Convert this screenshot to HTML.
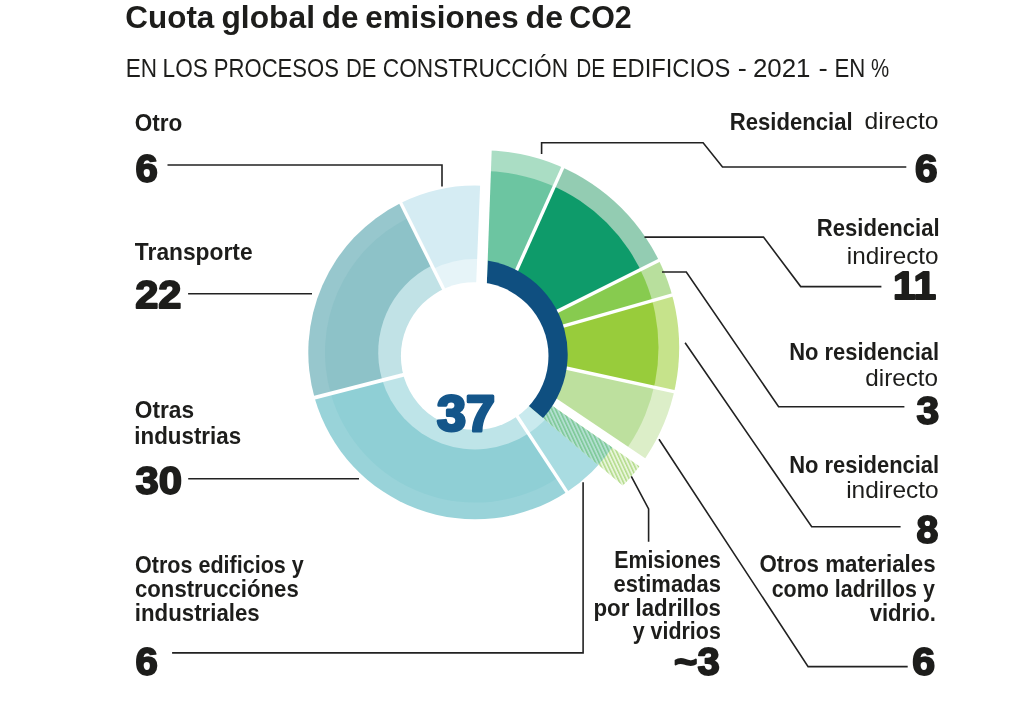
<!DOCTYPE html>
<html lang="es"><head><meta charset="utf-8"><title>Cuota global de emisiones de CO2</title>
<style>
html,body{margin:0;padding:0;background:#fff}
svg{display:block;will-change:transform}
text{font-family:"Liberation Sans",Arial,sans-serif}
</style></head><body>
<svg width="1031" height="719" viewBox="0 0 1031 719">
<defs>
<pattern id="hatchL" width="3.4" height="3.4" patternUnits="userSpaceOnUse" patternTransform="rotate(-25)"><rect width="3.4" height="3.4" fill="#e8f5da"/><rect width="1.5" height="3.4" fill="#b3db8b"/></pattern>
<pattern id="hatchD" width="3.4" height="3.4" patternUnits="userSpaceOnUse" patternTransform="rotate(-25)"><rect width="3.4" height="3.4" fill="#b2dfd0"/><rect width="1.5" height="3.4" fill="#7cc896"/></pattern>
<clipPath id="hclip"><polygon points="520.0,383.4 660,480.4 650,508.8 505.3,386.0"/></clipPath><clipPath id="rclip"><polygon points="486.2,300 493.5,100 760,100 650,508.8 459.54,347.19"/></clipPath>
<clipPath id="gout"><circle cx="481.9" cy="347.6" r="197.3"/></clipPath>
<clipPath id="gin"><circle cx="481.9" cy="347.6" r="176.6"/></clipPath>
</defs>
<rect width="1031" height="719" fill="#fff"/>
<g id="chart">
<path d="M475.20,352.40 L400.73,203.04 A166.9,166.9 0 0 1 481.90,185.63 Z" fill="#d5ecf3" />
<path d="M475.20,352.40 L433.48,268.72 A93.5,93.5 0 0 1 478.95,258.98 Z" fill="#e6f4f8" />
<path d="M475.20,352.40 L314.93,398.96 A166.9,166.9 0 0 1 400.73,203.04 Z" fill="#97c7cd" />
<path d="M475.20,352.40 L330.96,394.30 A150.2,150.2 0 0 1 408.18,217.98 Z" fill="#8dc2c8" />
<path d="M475.20,352.40 L382.05,379.46 A97.0,97.0 0 0 1 431.92,265.59 Z" fill="#c1e2e6" />
<path d="M475.20,352.40 L566.83,491.90 A166.9,166.9 0 0 1 314.93,398.96 Z" fill="#99d3d9" />
<path d="M475.20,352.40 L557.66,477.94 A150.2,150.2 0 0 1 330.96,394.30 Z" fill="#8fcfd5" />
<path d="M475.20,352.40 L528.46,433.47 A97.0,97.0 0 0 1 382.05,379.46 Z" fill="#bee4e8" />
<path d="M475.20,352.40 L611.92,448.13 A166.9,166.9 0 0 1 566.83,491.90 Z" fill="#a9dce1" />
<path d="M475.20,352.40 L554.66,408.04 A97.0,97.0 0 0 1 528.46,433.47 Z" fill="#c9eaee" />
<line x1="448.43" y1="298.70" x2="399.39" y2="200.35" stroke="#fff" stroke-width="3.4"/>
<line x1="508.14" y1="402.55" x2="568.48" y2="494.40" stroke="#fff" stroke-width="3.4"/>
<line x1="303" y1="400.7" x2="410" y2="373.1" stroke="#fff" stroke-width="3.8"/>
<line x1="477.61" y1="292.45" x2="482.02" y2="182.64" stroke="#fff" stroke-width="3.6"/>
<g clip-path="url(#gout)">
<path d="M481.00,349.50 L489.43,119.65 A230,230 0 0 1 575.28,139.71 Z" fill="#aaddc4" />
<path d="M481.00,349.50 L575.28,139.71 A230,230 0 0 1 686.66,246.52 Z" fill="#93ccb2" />
<path d="M481.00,349.50 L686.66,246.52 A230,230 0 0 1 702.20,286.49 Z" fill="#b8df9d" />
<path d="M481.00,349.50 L702.20,286.49 A230,230 0 0 1 705.72,398.50 Z" fill="#c6e38b" />
<path d="M481.00,349.50 L705.72,398.50 A230,230 0 0 1 671.68,478.11 Z" fill="#dceec8" />
</g>
<g clip-path="url(#gin)">
<path d="M481.00,349.50 L489.43,119.65 A230,230 0 0 1 575.28,139.71 Z" fill="#6cc5a1" />
<path d="M481.00,349.50 L575.28,139.71 A230,230 0 0 1 686.66,246.52 Z" fill="#0e9b6a" />
<path d="M481.00,349.50 L686.66,246.52 A230,230 0 0 1 702.20,286.49 Z" fill="#87cb4f" />
<path d="M481.00,349.50 L702.20,286.49 A230,230 0 0 1 705.72,398.50 Z" fill="#98cc3b" />
<path d="M481.00,349.50 L705.72,398.50 A230,230 0 0 1 671.68,478.11 Z" fill="#bde09e" />
</g>
<g clip-path="url(#hclip)">
<g clip-path="url(#gout)"><path d="M481.00,349.50 L684.08,457.48 A230,230 0 0 1 628.84,525.69 Z" fill="url(#hatchL)" /></g>
<path d="M475.20,352.40 L622.56,430.75 A166.9,166.9 0 0 1 582.48,480.25 Z" fill="url(#hatchD)" />
</g>
<line x1="505.60" y1="294.77" x2="563.39" y2="166.16" stroke="#fff" stroke-width="3.4"/>
<line x1="534.65" y1="322.63" x2="660.73" y2="259.50" stroke="#fff" stroke-width="3.4"/>
<line x1="538.70" y1="333.06" x2="674.31" y2="294.43" stroke="#fff" stroke-width="3.4"/>
<line x1="539.62" y1="362.28" x2="677.39" y2="392.32" stroke="#fff" stroke-width="3.4"/>
<line x1="530.74" y1="383.05" x2="647.64" y2="461.90" stroke="#fff" stroke-width="3.2"/>
<g clip-path="url(#rclip)">
<path d="M472.90,354.20 L472.90,259.40 A94.8,94.8 0 0 1 520.30,436.30 Z" fill="#0f4f80" />
</g>
<line x1="483.20" y1="289.54" x2="488.40" y2="147.64" stroke="#fff" stroke-width="6.8"/>
<circle cx="474.7" cy="356.0" r="73.8" fill="#fff"/>
</g>
<g id="leaders">
<polyline points="167.5,165.0 442,165.0 442,186.5" fill="none" stroke="#222" stroke-width="1.6" stroke-linejoin="miter"/>
<polyline points="188.1,293.8 312,293.8" fill="none" stroke="#222" stroke-width="1.6" stroke-linejoin="miter"/>
<polyline points="188.2,478.7 359,478.7" fill="none" stroke="#222" stroke-width="1.6" stroke-linejoin="miter"/>
<polyline points="172.1,652.9 583.1,652.9 583.1,482.2" fill="none" stroke="#222" stroke-width="1.6" stroke-linejoin="miter"/>
<polyline points="541.6,154 541.6,142.8 703.1,142.8 722.5,167.0 906.3,167.0" fill="none" stroke="#222" stroke-width="1.6" stroke-linejoin="miter"/>
<polyline points="644.5,237.1 763.5,237.1 800.7,286.6 881.4,286.6" fill="none" stroke="#222" stroke-width="1.6" stroke-linejoin="miter"/>
<polyline points="662,272 686.3,272 778.6,406.7 904.4,406.7" fill="none" stroke="#222" stroke-width="1.6" stroke-linejoin="miter"/>
<polyline points="685.1,342.7 811.7,526.7 900.6,526.7" fill="none" stroke="#222" stroke-width="1.6" stroke-linejoin="miter"/>
<polyline points="659,439.2 808.1,666.6 907.7,666.6" fill="none" stroke="#222" stroke-width="1.6" stroke-linejoin="miter"/>
<polyline points="631.3,476.3 648.6,508.9 648.6,541.7" fill="none" stroke="#222" stroke-width="1.6" stroke-linejoin="miter"/>
</g>
<g id="labels">
<text y="27.6" font-size="31.2" font-weight="bold" fill="#1d1d1b"><tspan x="125.33" textLength="89.00" lengthAdjust="spacingAndGlyphs">Cuota</tspan> <tspan x="221.47" textLength="93.48" lengthAdjust="spacingAndGlyphs">global</tspan> <tspan x="321.82" textLength="36.69" lengthAdjust="spacingAndGlyphs">de</tspan> <tspan x="365.27" textLength="153.44" lengthAdjust="spacingAndGlyphs">emisiones</tspan> <tspan x="525.53" textLength="37.48" lengthAdjust="spacingAndGlyphs">de</tspan> <tspan x="569.26" textLength="62.41" lengthAdjust="spacingAndGlyphs">CO2</tspan></text>
<text y="76.5" font-size="25.4" font-weight="normal" fill="#1d1d1b"><tspan x="125.79" textLength="31.32" lengthAdjust="spacingAndGlyphs">EN</tspan> <tspan x="162.62" textLength="45.26" lengthAdjust="spacingAndGlyphs">LOS</tspan> <tspan x="213.86" textLength="125.03" lengthAdjust="spacingAndGlyphs">PROCESOS</tspan> <tspan x="345.88" textLength="30.38" lengthAdjust="spacingAndGlyphs">DE</tspan> <tspan x="382.77" textLength="185.29" lengthAdjust="spacingAndGlyphs">CONSTRUCCIÓN</tspan> <tspan x="576.22" textLength="28.93" lengthAdjust="spacingAndGlyphs">DE</tspan> <tspan x="611.83" textLength="118.43" lengthAdjust="spacingAndGlyphs">EDIFICIOS</tspan> <tspan x="737.82" textLength="9.07" lengthAdjust="spacingAndGlyphs">-</tspan> <tspan x="752.90" textLength="57.55" lengthAdjust="spacingAndGlyphs">2021</tspan> <tspan x="818.45" textLength="9.29" lengthAdjust="spacingAndGlyphs">-</tspan> <tspan x="834.40" textLength="30.83" lengthAdjust="spacingAndGlyphs">EN</tspan> <tspan x="870.96" textLength="18.15" lengthAdjust="spacingAndGlyphs">%</tspan></text>
<text x="134.78" y="130.7" font-size="23.2" font-weight="bold" fill="#1d1d1b" textLength="47.59" lengthAdjust="spacingAndGlyphs">Otro</text>
<text x="135.40" y="181.5" font-size="38.0" font-weight="bold" fill="#1d1d1b" stroke="#1d1d1b" stroke-width="1.8" stroke-linejoin="round" textLength="22.31" lengthAdjust="spacingAndGlyphs">6</text>
<text x="134.87" y="259.6" font-size="23.2" font-weight="bold" fill="#1d1d1b" textLength="117.70" lengthAdjust="spacingAndGlyphs">Transporte</text>
<text x="135.19" y="307.5" font-size="38.0" font-weight="bold" fill="#1d1d1b" stroke="#1d1d1b" stroke-width="1.8" stroke-linejoin="round" textLength="46.30" lengthAdjust="spacingAndGlyphs">22</text>
<text x="134.76" y="417.5" font-size="23.2" font-weight="bold" fill="#1d1d1b" textLength="59.35" lengthAdjust="spacingAndGlyphs">Otras</text>
<text x="134.27" y="444.3" font-size="23.2" font-weight="bold" fill="#1d1d1b" textLength="106.86" lengthAdjust="spacingAndGlyphs">industrias</text>
<text x="135.52" y="494.3" font-size="38.0" font-weight="bold" fill="#1d1d1b" stroke="#1d1d1b" stroke-width="1.8" stroke-linejoin="round" textLength="46.57" lengthAdjust="spacingAndGlyphs">30</text>
<text x="135.03" y="572.6" font-size="23.2" font-weight="bold" fill="#1d1d1b" textLength="168.78" lengthAdjust="spacingAndGlyphs">Otros edificios y</text>
<text x="135.03" y="597.0" font-size="23.2" font-weight="bold" fill="#1d1d1b" textLength="163.71" lengthAdjust="spacingAndGlyphs">construcciónes</text>
<text x="134.85" y="620.9" font-size="23.2" font-weight="bold" fill="#1d1d1b" textLength="124.86" lengthAdjust="spacingAndGlyphs">industriales</text>
<text x="135.40" y="675.2" font-size="38.0" font-weight="bold" fill="#1d1d1b" stroke="#1d1d1b" stroke-width="1.8" stroke-linejoin="round" textLength="22.31" lengthAdjust="spacingAndGlyphs">6</text>
<text x="729.75" y="130.2" font-size="23.2" font-weight="bold" fill="#1d1d1b" textLength="122.84" lengthAdjust="spacingAndGlyphs">Residencial</text>
<text x="864.45" y="128.7" font-size="23.2" font-weight="normal" fill="#1d1d1b" textLength="74.03" lengthAdjust="spacingAndGlyphs">directo</text>
<text x="914.98" y="181.5" font-size="38.0" font-weight="bold" fill="#1d1d1b" stroke="#1d1d1b" stroke-width="1.8" stroke-linejoin="round" textLength="22.53" lengthAdjust="spacingAndGlyphs">6</text>
<text x="816.77" y="236.4" font-size="23.2" font-weight="bold" fill="#1d1d1b" textLength="122.83" lengthAdjust="spacingAndGlyphs">Residencial</text>
<text x="846.78" y="264.1" font-size="23.2" font-weight="normal" fill="#1d1d1b" textLength="91.78" lengthAdjust="spacingAndGlyphs">indirecto</text>
<text x="893.01" y="298.9" font-size="38.0" font-weight="bold" fill="#1d1d1b" stroke="#1d1d1b" stroke-width="1.8" stroke-linejoin="round" textLength="43.03" lengthAdjust="spacingAndGlyphs">11</text>
<text x="789.18" y="360.3" font-size="23.2" font-weight="bold" fill="#1d1d1b" textLength="150.01" lengthAdjust="spacingAndGlyphs">No residencial</text>
<text x="865.26" y="386.0" font-size="23.2" font-weight="normal" fill="#1d1d1b" textLength="72.87" lengthAdjust="spacingAndGlyphs">directo</text>
<text x="916.48" y="424.4" font-size="38.0" font-weight="bold" fill="#1d1d1b" stroke="#1d1d1b" stroke-width="1.8" stroke-linejoin="round" textLength="22.66" lengthAdjust="spacingAndGlyphs">3</text>
<text x="789.18" y="472.6" font-size="23.2" font-weight="bold" fill="#1d1d1b" textLength="150.01" lengthAdjust="spacingAndGlyphs">No residencial</text>
<text x="846.19" y="498.2" font-size="23.2" font-weight="normal" fill="#1d1d1b" textLength="92.42" lengthAdjust="spacingAndGlyphs">indirecto</text>
<text x="916.50" y="543.1" font-size="38.0" font-weight="bold" fill="#1d1d1b" stroke="#1d1d1b" stroke-width="1.8" stroke-linejoin="round" textLength="21.82" lengthAdjust="spacingAndGlyphs">8</text>
<text x="759.42" y="572.2" font-size="23.2" font-weight="bold" fill="#1d1d1b" textLength="176.17" lengthAdjust="spacingAndGlyphs">Otros materiales</text>
<text x="771.71" y="596.8" font-size="23.2" font-weight="bold" fill="#1d1d1b" textLength="163.17" lengthAdjust="spacingAndGlyphs">como ladrillos y</text>
<text x="869.70" y="621.2" font-size="23.2" font-weight="bold" fill="#1d1d1b" textLength="66.31" lengthAdjust="spacingAndGlyphs">vidrio.</text>
<text x="912.35" y="675.1" font-size="38.0" font-weight="bold" fill="#1d1d1b" stroke="#1d1d1b" stroke-width="1.8" stroke-linejoin="round" textLength="22.84" lengthAdjust="spacingAndGlyphs">6</text>
<text x="614.26" y="567.7" font-size="23.2" font-weight="bold" fill="#1d1d1b" textLength="106.63" lengthAdjust="spacingAndGlyphs">Emisiones</text>
<text x="613.50" y="591.5" font-size="23.2" font-weight="bold" fill="#1d1d1b" textLength="107.49" lengthAdjust="spacingAndGlyphs">estimadas</text>
<text x="593.53" y="615.5" font-size="23.2" font-weight="bold" fill="#1d1d1b" textLength="127.41" lengthAdjust="spacingAndGlyphs">por ladrillos</text>
<text x="632.74" y="638.5" font-size="23.2" font-weight="bold" fill="#1d1d1b" textLength="88.06" lengthAdjust="spacingAndGlyphs">y vidrios</text>
<text x="674.14" y="675.2" font-size="38.0" font-weight="bold" fill="#1d1d1b" stroke="#1d1d1b" stroke-width="1.8" stroke-linejoin="round" textLength="45.65" lengthAdjust="spacingAndGlyphs">~3</text>
<text x="436.93" y="430.5" font-size="50.4" font-weight="bold" fill="#14568a" stroke="#14568a" stroke-width="3.0" stroke-linejoin="round" textLength="58.10" lengthAdjust="spacingAndGlyphs">37</text>
</g>
</svg>
</body></html>
